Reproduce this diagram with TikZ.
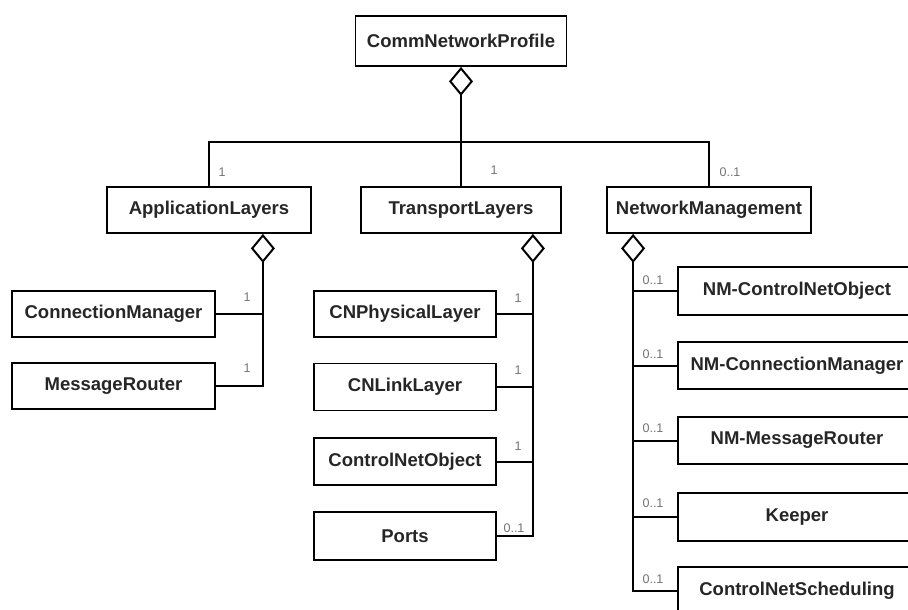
\documentclass[tikz,border=0pt]{standalone}
\usepackage{fontspec}
\setmainfont{Liberation Sans}
\usetikzlibrary{arrows.meta}

\tikzset{
  cls/.style={draw, line width=1.8pt, inner sep=0pt, font=\fontsize{18.5}{20}\selectfont\bfseries, text=black!85},
  mult/.style={font=\fontsize{12.5}{13}\selectfont, text=black!55, inner sep=0pt},
  link/.style={line width=2pt},
  aggr/.style={line width=2pt, -{Diamond[open, length=29pt, width=24pt]}}
}

\begin{document}
\begin{tikzpicture}[x=1pt, y=-1pt]
\clip (0,0) rectangle (908,610);
\fill[white] (0,0) rectangle (908,610);

\node[cls, minimum width=211pt, minimum height=50pt] (profile) at (461,41) {CommNetworkProfile};

\node[cls, minimum width=204pt, minimum height=46pt] (appl) at (209,210) {ApplicationLayers};
\node[cls, minimum width=200pt, minimum height=46pt] (transp) at (461,210) {TransportLayers};
\node[cls, minimum width=204pt, minimum height=46pt] (netmgmt) at (709,210) {NetworkManagement};

\node[cls, minimum width=203pt, minimum height=46pt] (connmgr) at (113.5,314) {ConnectionManager};
\node[cls, minimum width=203pt, minimum height=46pt] (msgrouter) at (113.5,386) {MessageRouter};

\node[cls, minimum width=182pt, minimum height=46pt] (cnphys) at (405,314) {CNPhysicalLayer};
\node[cls, minimum width=182pt, minimum height=47pt] (cnlink) at (405,387) {CNLinkLayer};
\node[cls, minimum width=182pt, minimum height=47pt] (cnobj) at (405,461.5) {ControlNetObject};
\node[cls, minimum width=182pt, minimum height=48pt] (ports) at (405,536) {Ports};

\node[cls, minimum width=238pt, minimum height=48pt] (nmcnobj) at (797,291) {NM-ControlNetObject};
\node[cls, minimum width=238pt, minimum height=47pt] (nmconn) at (797,365.5) {NM-ConnectionManager};
\node[cls, minimum width=238pt, minimum height=47pt] (nmmsg) at (797,440.5) {NM-MessageRouter};
\node[cls, minimum width=238pt, minimum height=48pt] (keeper) at (797,517) {Keeper};
\node[cls, minimum width=238pt, minimum height=48pt] (cnsched) at (797,591) {ControlNetScheduling};

\coordinate (bus) at (profile.south |- 0,142);
\coordinate (appjoint) at ([xshift=-49pt]appl.south east);
\coordinate (trjoint) at ([xshift=-29pt]transp.south east);
\coordinate (nmjoint) at ([xshift=27pt]netmgmt.south west);

\draw[aggr] (bus) -- (profile.south);
\draw[link] (bus) -| (appl.north);
\draw[link] (bus) -- (transp.north);
\draw[link] (bus) -| (netmgmt.north);

\draw[aggr] (msgrouter.east) -| (appjoint);
\draw[link] (connmgr.east) -- (connmgr.east -| appjoint);

\draw[aggr] (ports.east) -| (trjoint);
\draw[link] (cnphys.east) -- (cnphys.east -| trjoint);
\draw[link] (cnlink.east) -- (cnlink.east -| trjoint);
\draw[link] (cnobj.east) -- (cnobj.east -| trjoint);

\draw[aggr] (cnsched.west) -| (nmjoint);
\draw[link] (nmcnobj.west) -- (nmcnobj.west -| nmjoint);
\draw[link] (nmconn.west) -- (nmconn.west -| nmjoint);
\draw[link] (nmmsg.west) -- (nmmsg.west -| nmjoint);
\draw[link] (keeper.west) -- (keeper.west -| nmjoint);

\node[mult] (m-appl) at (222,172) {1};
\node[mult] (m-transp) at (494,170) {1};
\node[mult] (m-netmgmt) at (730,172) {0..1};

\node[mult] (m-connmgr) at (247,297) {1};
\node[mult] (m-msgrouter) at (247,368) {1};

\node[mult] (m-cnphys) at (518,298) {1};
\node[mult] (m-cnlink) at (518,370) {1};
\node[mult] (m-cnobj) at (518,446) {1};
\node[mult] (m-ports) at (514,528) {0..1};

\node[mult] (m-nmcnobj) at (653,280) {0..1};
\node[mult] (m-nmconn) at (653,354) {0..1};
\node[mult] (m-nmmsg) at (653,428) {0..1};
\node[mult] (m-keeper) at (653,503) {0..1};
\node[mult] (m-cnsched) at (653,579) {0..1};
\end{tikzpicture}
\end{document}
